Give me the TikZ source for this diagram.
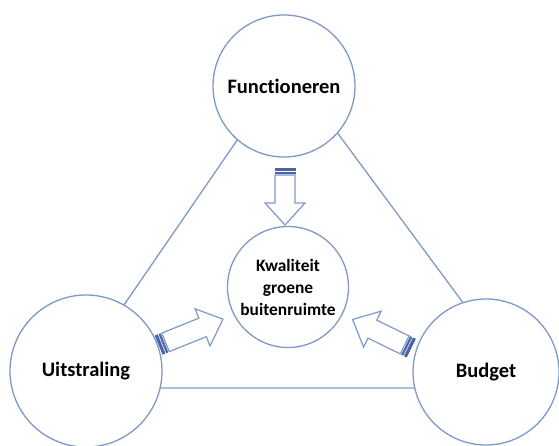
\documentclass[tikz,border=0pt]{standalone}
\usepackage{fontspec}
\setmainfont[Ligatures={NoCommon}]{Carlito}
\usepackage{tikz}
\usetikzlibrary{calc}
\definecolor{lijnblauw}{RGB}{128,152,200}
\definecolor{streepblauw}{RGB}{72,100,165}

% blokpijl: {start}{hoek}{lengte}
\newcommand{\blokpijl}[3]{%
  \begin{scope}[shift={#1},rotate=#2]
    \draw[pijl] (7,-10) -- ({#3-22},-10) -- ({#3-22},-20) -- (#3,0)
      -- ({#3-22},20) -- ({#3-22},10) -- (7,10) -- cycle;
    \filldraw[streep] (0,-10) rectangle (2.5,10);
    \filldraw[streep] (4,-10) rectangle (5.5,10);
  \end{scope}}

\begin{document}
\begin{tikzpicture} [x=1pt,y=-1pt,
  lijn/.style={draw=lijnblauw, line width=1.3pt},
  cirkel/.style={circle, draw=lijnblauw, line width=1.3pt, fill=white,
    inner sep=0pt, font=\bfseries\fontsize{20.5}{22}\selectfont},
  pijl/.style={draw=lijnblauw, line width=1.2pt, fill=white, line join=miter},
  streep/.style={draw=streepblauw, fill=streepblauw, line width=0.6pt}]

\useasboundingbox (0,0) rectangle (559,446);

% driehoek achter de cirkels
\coordinate (top) at (288,66);
\coordinate (linksonder) at (67,388);
\coordinate (rechtsonder) at (526,388);
\draw[lijn] (top) -- (linksonder) -- (rechtsonder) -- cycle;

\node[cirkel, minimum size=142pt] (functioneren) at (284,86) {Functioneren};
\node[cirkel, minimum size=152pt] (uitstraling) at (86,371) {Uitstraling};
\node[cirkel, minimum size=146pt] (budget) at (486,372) {Budget};
\node[cirkel, minimum size=121pt, align=center,
  font=\bfseries\fontsize{17.4}{22}\selectfont] (kwaliteit) at (288,287)
  {Kwaliteit\\groene\\buitenruimte};

% pijlen naar het midden
\blokpijl{(285,168)}{-90}{57}
\blokpijl{(159,345)}{22}{69}
\blokpijl{(411,348)}{154}{65}

\end{tikzpicture}
\end{document}
